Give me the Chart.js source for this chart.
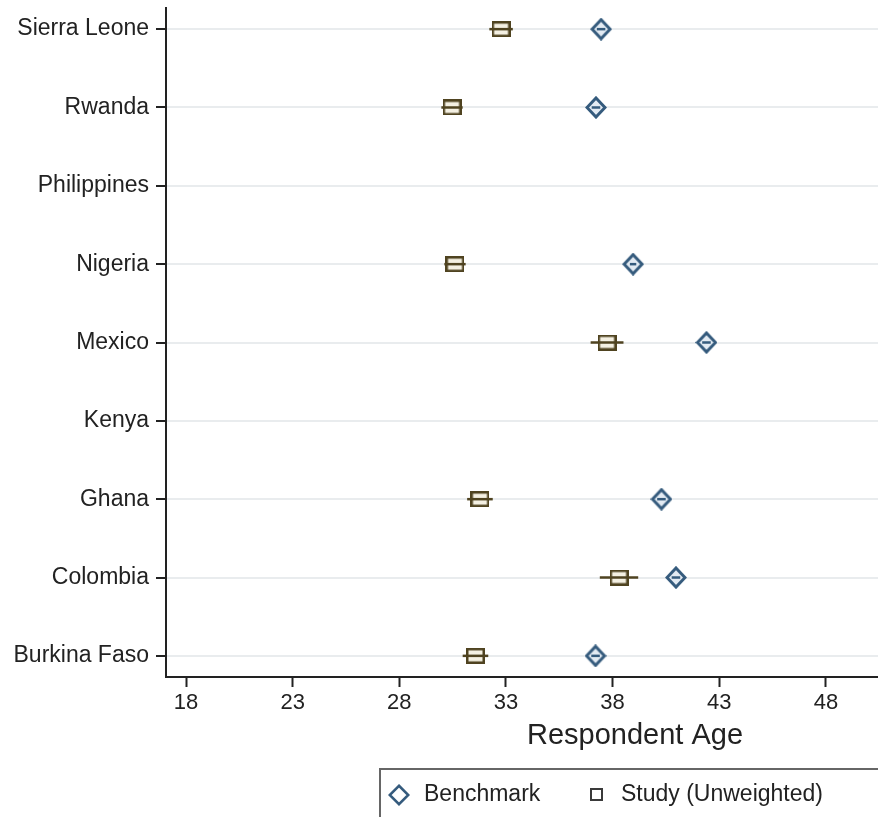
<!DOCTYPE html>
<html>
<head>
<meta charset="utf-8">
<script src="https://cdn.jsdelivr.net/npm/chart.js@4.4.1/dist/chart.umd.min.js"></script>
<style>
  html, body { margin: 0; padding: 0; background: #fff; overflow: hidden; }
  #wrap { width: 1110px; height: 830px; }
</style>
</head>
<body>
<div id="wrap"><canvas id="ageChart" width="1110" height="830"></canvas></div>
<script>
// rows from top to bottom
const countries = ['Sierra Leone', 'Rwanda', 'Philippines', 'Nigeria', 'Mexico', 'Kenya', 'Ghana', 'Colombia', 'Burkina Faso'];
const benchmark = [37.46, 37.22, null, 38.96, 42.4, null, 40.29, 40.97, 37.2];
const benchHalf = [0.2, 0.2, null, 0.15, 0.2, null, 0.2, 0.2, 0.2];
const study = [32.77, 30.47, null, 30.61, 37.74, null, 31.78, 38.3, 31.57];
const studyHalf = [0.55, 0.5, null, 0.5, 0.77, null, 0.6, 0.9, 0.6];
const xTicks = [18, 23, 28, 33, 38, 43, 48, 53, 58];

const BLUE = '#355b7d';
const OLIVE = '#4f4320';
const FONT = 'Liberation Sans';

const rowOf = i => countries.length - 1 - i;
const toPoints = vals => vals.map((v, i) => v == null ? null : { x: v, y: rowOf(i) }).filter(p => p);

function diamondImg(w, h, stroke, fill, lw) {
    const c = document.createElement('canvas');
    c.width = w; c.height = h;
    const g = c.getContext('2d');
    const m = lw / 2 + 0.5;
    g.beginPath();
    g.moveTo(w / 2, m); g.lineTo(w - m, h / 2); g.lineTo(w / 2, h - m); g.lineTo(m, h / 2);
    g.closePath();
    g.fillStyle = fill; g.fill();
    g.lineWidth = lw; g.strokeStyle = stroke; g.stroke();
    return c;
}

function boxImg(w, h, stroke, fill, lw) {
    const c = document.createElement('canvas');
    c.width = w; c.height = h;
    const g = c.getContext('2d');
    g.fillStyle = fill;
    g.fillRect(lw / 2, lw / 2, w - lw, h - lw);
    g.lineWidth = lw; g.strokeStyle = stroke;
    g.strokeRect(lw / 2, lw / 2, w - lw, h - lw);
    return c;
}

const benchMark = diamondImg(22, 23, BLUE, '#e3ebf3', 3);
const studyMark = boxImg(19, 16, OLIVE, '#f4f0e2', 2.5);

// confidence lines drawn through each marker
const ciLines = {
    id: 'ciLines',
    afterDatasetsDraw(chart) {
        const { ctx, scales: { x, y } } = chart;
        const draw = (vals, half) => {
            vals.forEach((v, i) => {
                if (v == null) return;
                const py = y.getPixelForValue(rowOf(i));
                ctx.beginPath();
                ctx.moveTo(x.getPixelForValue(v - half[i]), py);
                ctx.lineTo(x.getPixelForValue(v + half[i]), py);
                ctx.stroke();
            });
        };
        ctx.save();
        ctx.lineWidth = 2.5;
        ctx.strokeStyle = OLIVE;
        draw(study, studyHalf);
        ctx.strokeStyle = BLUE;
        draw(benchmark, benchHalf);
        ctx.restore();
    }
};

// framed key under the axis title
const keyBox = {
    id: 'keyBox',
    afterDraw(chart) {
        const { ctx } = chart;
        const top = 769, mid = 795;
        ctx.save();
        ctx.strokeStyle = '#666';
        ctx.lineWidth = 2;
        ctx.strokeRect(380, top, 510, 55);
        ctx.drawImage(diamondImg(22, 22, BLUE, '#fff', 2.5), 388, mid - 11);
        ctx.drawImage(boxImg(13, 13, '#3a3a3a', '#fff', 2), 590, mid - 7);
        ctx.fillStyle = '#222';
        ctx.font = '23px "' + FONT + '"';
        ctx.textBaseline = 'middle';
        ctx.fillText(chart.data.datasets[0].label, 424, mid);
        ctx.fillText(chart.data.datasets[1].label, 621, mid);
        ctx.restore();
    }
};

new Chart(document.getElementById('ageChart'), {
    type: 'scatter',
    data: {
        datasets: [{
            label: 'Benchmark',
            data: toPoints(benchmark),
            pointStyle: benchMark
        }, {
            label: 'Study (Unweighted)',
            data: toPoints(study),
            pointStyle: studyMark
        }]
    },
    options: {
        responsive: false,
        animation: false,
        layout: { padding: { top: 8, right: 6, bottom: 73, left: 0 } },
        plugins: {
            tooltip: { enabled: false },
            legend: { display: false }
        },
        scales: {
            x: {
                type: 'linear',
                min: 17.06,
                max: 61.04,
                afterBuildTicks: scale => { scale.ticks = xTicks.map(v => ({ value: v })); },
                afterFit: scale => { scale.height = 80; scale.paddingLeft = 0; scale.paddingRight = 0; },
                border: { color: '#222', width: 2 },
                grid: { drawOnChartArea: false, drawTicks: true, tickLength: 10, tickColor: '#222', tickWidth: 2 },
                ticks: { color: '#222', padding: 3, font: { family: FONT, size: 22 } },
                title: {
                    display: true,
                    text: 'Respondent Age',
                    color: '#222',
                    padding: { top: 0, bottom: 4 },
                    font: { family: FONT, size: 29 }
                }
            },
            y: {
                type: 'linear',
                min: -0.27,
                max: 8.27,
                afterBuildTicks: scale => { scale.ticks = countries.map((c, i) => ({ value: i })); },
                afterFit: scale => { scale.width = 166; scale.paddingTop = 0; scale.paddingBottom = 0; },
                border: { color: '#222', width: 2 },
                grid: { color: '#e9ecee', lineWidth: 2, tickLength: 10, tickColor: '#222', tickWidth: 2 },
                ticks: {
                    color: '#222',
                    padding: 7,
                    font: { family: FONT, size: 23 },
                    callback: v => countries[countries.length - 1 - v]
                }
            }
        }
    },
    plugins: [ciLines, keyBox]
});
</script>
</body>
</html>
